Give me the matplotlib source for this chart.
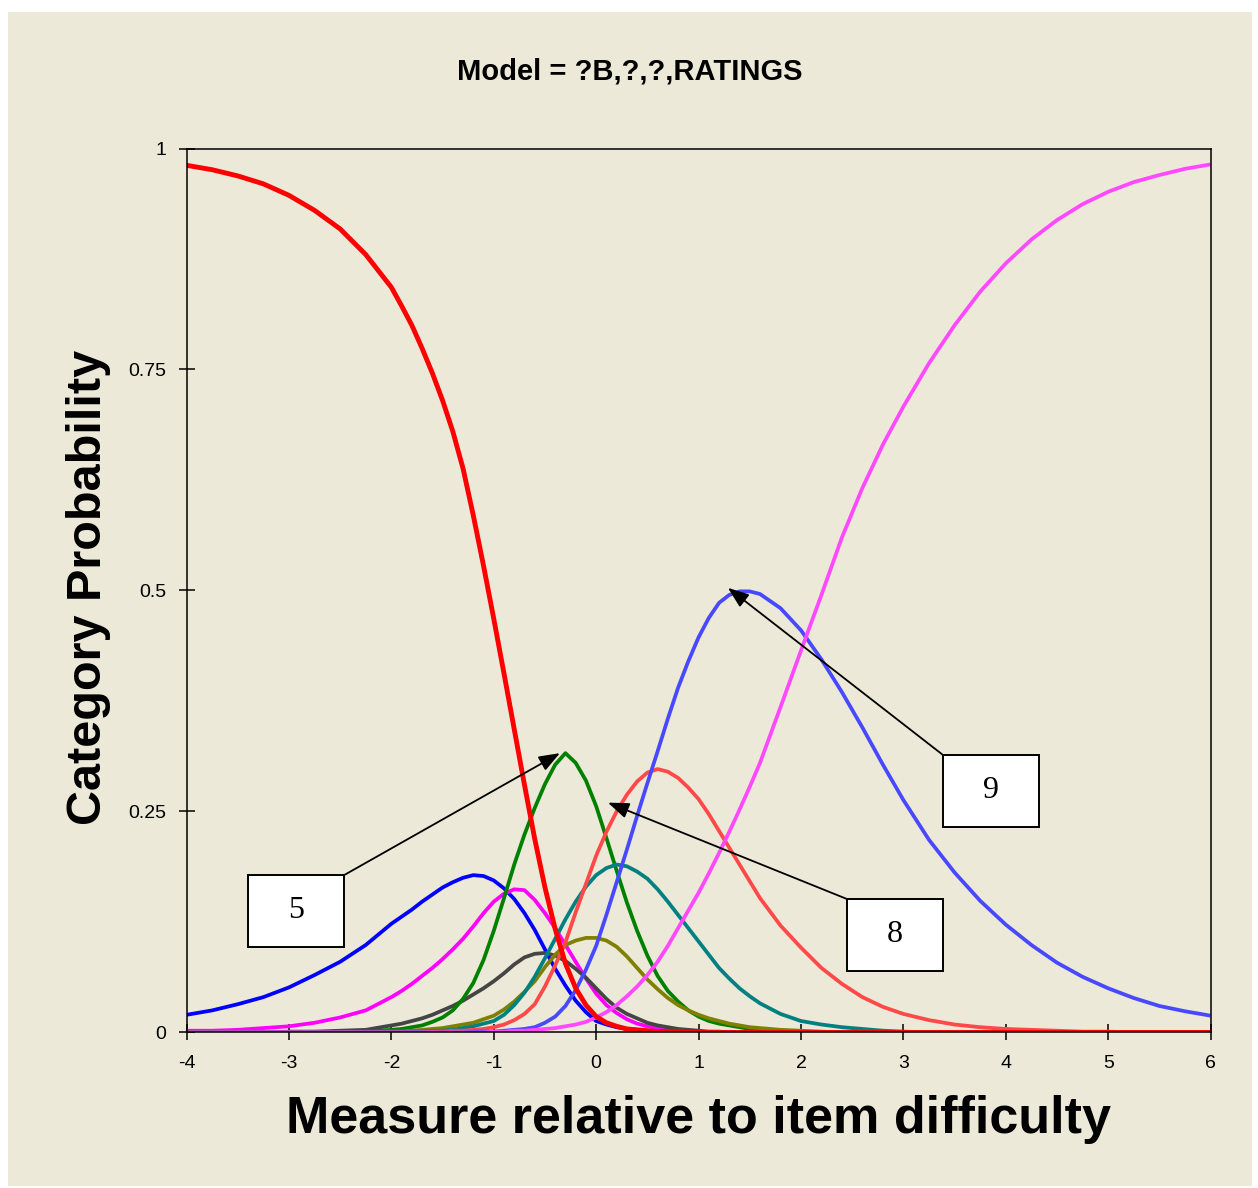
import matplotlib.pyplot as plt
from matplotlib.patches import Rectangle

plt.rcParams['axes.unicode_minus'] = False
plt.rcParams['font.family'] = ['Liberation Sans', 'DejaVu Sans']

BG = '#ECE9D8'

# measure relative to item difficulty (x positions where curves were read)
measure = ([-4.0, -3.75, -3.5, -3.25, -3.0, -2.75, -2.5, -2.25]
           + [-2.0, -1.9, -1.8, -1.7, -1.6, -1.5, -1.4, -1.3, -1.2, -1.1,
              -1.0, -0.9, -0.8, -0.7, -0.6, -0.5, -0.4, -0.3, -0.2, -0.1,
              0.0, 0.1, 0.2, 0.3, 0.4, 0.5, 0.6, 0.7, 0.8, 0.9,
              1.0, 1.1, 1.2, 1.3, 1.4, 1.5, 1.6]
           + [1.8, 2.0, 2.2, 2.4, 2.6, 2.8, 3.0]
           + [3.25, 3.5, 3.75, 4.0, 4.25, 4.5, 4.75, 5.0, 5.25, 5.5, 5.75, 6.0])

Z7 = [0] * 7
Z12 = [0] * 12

# category probabilities, one list per category
prob_1 = ([0.981, 0.976, 0.969, 0.960, 0.947, 0.930, 0.909, 0.880]
          + [0.843, 0.822, 0.800, 0.774, 0.746, 0.715, 0.680, 0.638, 0.585, 0.528,
             0.468, 0.406, 0.343, 0.280, 0.219, 0.164, 0.117, 0.078, 0.050, 0.031,
             0.018, 0.011, 0.007, 0.004, 0.003, 0.002, 0.001, 0.001, 0.001, 0,
             0, 0, 0, 0, 0, 0, 0]
          + Z7 + Z12)
prob_2 = ([0.020, 0.025, 0.032, 0.040, 0.051, 0.065, 0.080, 0.099]
          + [0.123, 0.131, 0.139, 0.148, 0.156, 0.164, 0.170, 0.175, 0.178, 0.177,
             0.172, 0.163, 0.151, 0.135, 0.116, 0.094, 0.072, 0.053, 0.036, 0.023,
             0.013, 0.009, 0.006, 0.004, 0.003, 0.002, 0.001, 0.001, 0, 0,
             0, 0, 0, 0, 0, 0, 0]
          + Z7 + Z12)
prob_3 = ([0.002, 0.002, 0.003, 0.005, 0.007, 0.011, 0.017, 0.025]
          + [0.040, 0.047, 0.055, 0.064, 0.073, 0.083, 0.094, 0.106, 0.120, 0.135,
             0.148, 0.157, 0.162, 0.161, 0.150, 0.135, 0.118, 0.099, 0.080, 0.061,
             0.044, 0.031, 0.022, 0.015, 0.010, 0.007, 0.005, 0.003, 0.002, 0.001,
             0.001, 0, 0, 0, 0, 0, 0]
          + Z7 + Z12)
prob_4 = ([0, 0, 0, 0, 0.001, 0.001, 0.002, 0.003]
          + [0.008, 0.010, 0.013, 0.016, 0.020, 0.025, 0.030, 0.036, 0.043, 0.050,
             0.058, 0.067, 0.077, 0.085, 0.089, 0.090, 0.087, 0.081, 0.072, 0.062,
             0.050, 0.038, 0.028, 0.021, 0.016, 0.011, 0.008, 0.006, 0.004, 0.003,
             0.002, 0.001, 0.001, 0, 0, 0, 0]
          + Z7 + Z12)
prob_5 = ([0, 0, 0, 0, 0, 0, 0.001, 0.001]
          + [0.003, 0.004, 0.006, 0.008, 0.012, 0.017, 0.025, 0.038, 0.056, 0.082,
             0.115, 0.152, 0.190, 0.224, 0.254, 0.281, 0.303, 0.316, 0.305, 0.285,
             0.256, 0.220, 0.183, 0.147, 0.115, 0.087, 0.064, 0.047, 0.035, 0.025,
             0.018, 0.013, 0.010, 0.008, 0.006, 0.004, 0.003]
          + [0.002, 0.001, 0, 0, 0, 0, 0] + Z12)
prob_6 = ([0, 0, 0, 0, 0, 0, 0, 0]
          + [0.001, 0.001, 0.002, 0.003, 0.004, 0.005, 0.007, 0.009, 0.011, 0.015,
             0.019, 0.026, 0.035, 0.046, 0.058, 0.074, 0.088, 0.099, 0.104, 0.107,
             0.107, 0.104, 0.097, 0.086, 0.073, 0.060, 0.049, 0.039, 0.031, 0.025,
             0.020, 0.016, 0.013, 0.010, 0.008, 0.006, 0.005]
          + [0.003, 0.002, 0.001, 0, 0, 0, 0] + Z12)
prob_7 = ([0, 0, 0, 0, 0, 0, 0, 0]
          + [0, 0, 0.001, 0.001, 0.002, 0.002, 0.003, 0.005, 0.007, 0.010,
             0.013, 0.020, 0.031, 0.045, 0.063, 0.084, 0.106, 0.128, 0.148, 0.165,
             0.178, 0.186, 0.190, 0.188, 0.182, 0.174, 0.162, 0.148, 0.133, 0.118,
             0.103, 0.088, 0.073, 0.061, 0.050, 0.041, 0.033]
          + [0.021, 0.013, 0.009, 0.006, 0.004, 0.002, 0.001] + Z12)
prob_8 = ([0, 0, 0, 0, 0, 0, 0, 0]
          + [0, 0, 0, 0, 0.001, 0.001, 0.002, 0.002, 0.003, 0.004,
             0.006, 0.009, 0.014, 0.021, 0.032, 0.052, 0.076, 0.102, 0.136, 0.168,
             0.200, 0.227, 0.250, 0.269, 0.284, 0.294, 0.298, 0.295, 0.288, 0.277,
             0.264, 0.247, 0.228, 0.209, 0.190, 0.171, 0.152]
          + [0.121, 0.096, 0.073, 0.055, 0.040, 0.029, 0.021]
          + [0.014, 0.009, 0.006, 0.004, 0.003, 0.002, 0.001, 0.001, 0, 0, 0, 0])
prob_9 = ([0, 0, 0, 0, 0, 0, 0, 0]
          + [0, 0, 0, 0, 0, 0, 0, 0, 0.001, 0.001,
             0.001, 0.002, 0.003, 0.004, 0.006, 0.011, 0.018, 0.030, 0.048, 0.071,
             0.098, 0.133, 0.170, 0.207, 0.245, 0.282, 0.318, 0.355, 0.390, 0.420,
             0.447, 0.469, 0.486, 0.495, 0.499, 0.499, 0.496]
          + [0.480, 0.455, 0.422, 0.385, 0.345, 0.303, 0.263]
          + [0.218, 0.181, 0.149, 0.122, 0.099, 0.079, 0.063, 0.050, 0.039, 0.030, 0.024, 0.019])
prob_10 = ([0, 0, 0, 0, 0, 0, 0, 0]
           + [0, 0, 0, 0, 0, 0, 0, 0, 0, 0,
              0.001, 0.001, 0.002, 0.002, 0.003, 0.004, 0.005, 0.007, 0.009, 0.012,
              0.017, 0.023, 0.031, 0.041, 0.052, 0.065, 0.080, 0.098, 0.118, 0.138,
              0.158, 0.180, 0.203, 0.227, 0.252, 0.278, 0.305]
           + [0.368, 0.432, 0.495, 0.560, 0.616, 0.665, 0.708]
           + [0.757, 0.800, 0.838, 0.870, 0.897, 0.919, 0.937, 0.951, 0.962, 0.970, 0.977, 0.982])

curves = [prob_1, prob_2, prob_3, prob_4, prob_5, prob_6, prob_7, prob_8, prob_9, prob_10]
colours = ['#FF0000', '#0000FF', '#FF00FF', '#454545', '#008000',
           '#808000', '#008080', '#FF4848', '#4848FF', '#FF48FF']

y_ticks = [0, 0.25, 0.5, 0.75, 1]
y_tick_labels = ['0', '0.25', '0.5', '0.75', '1']
x_ticks = [-4, -3, -2, -1, 0, 1, 2, 3, 4, 5, 6]

# callout boxes: label, box corners (x0, x1, y0, y1), arrow start, arrow tip
callouts = [
    ('5', (-3.40, -2.462, 0.097, 0.178), (-2.462, 0.178), (-0.354, 0.316)),
    ('8', (2.449, 3.386, 0.070, 0.151), (2.449, 0.151), (0.115, 0.260)),
    ('9', (3.386, 4.323, 0.2325, 0.314), (3.386, 0.314), (1.287, 0.503)),
]

fig = plt.figure(figsize=(12.58, 11.88), dpi=100)
fig.patch.set_facecolor('white')
fig.patches.append(Rectangle((8 / 1258, 2 / 1188), 1244 / 1258, 1174 / 1188,
                             transform=fig.transFigure, facecolor=BG,
                             edgecolor='none', zorder=-10))

ax = fig.add_axes([0.1483, 0.1309, 0.8140, 0.7441])
ax.set_facecolor(BG)

for i, (probs, col) in enumerate(zip(curves, colours)):
    lw = 3.5 if i == 0 else 2.7
    z = 3 if i == 0 else 2
    ax.plot(measure, probs, color=col, lw=lw, zorder=z,
            solid_joinstyle='round', solid_capstyle='butt')

ax.set_xlim(-4, 6)
ax.set_ylim(0, 1)
ax.set_xticks(x_ticks)
ax.set_xticklabels([str(t) for t in x_ticks])
ax.set_yticks(y_ticks)
ax.set_yticklabels(y_tick_labels)
ax.tick_params(axis='both', direction='inout', length=11, width=1.1,
               labelsize=14, colors='black')
ax.tick_params(axis='y', pad=9)
ax.tick_params(axis='x', pad=11)
for sp in ax.spines.values():
    sp.set_linewidth(1.1)
    sp.set_color('black')
    sp.set_zorder(4)

for label, (x0, x1, y0, y1), start, tip in callouts:
    ax.annotate('', xy=tip, xytext=start,
                arrowprops=dict(arrowstyle='-|>,head_length=0.8,head_width=0.3',
                                color='black', lw=1.3, shrinkA=0, shrinkB=0,
                                mutation_scale=16),
                zorder=6)
    ax.add_patch(Rectangle((x0, y0), x1 - x0, y1 - y0, facecolor='white',
                           edgecolor='black', lw=1.4, zorder=7))
    ax.text((x0 + x1) / 2, (y0 + y1) / 2, label, ha='center', va='center',
            fontsize=23, family=['Liberation Serif', 'DejaVu Serif'], zorder=8)

fig.text(630 / 1258, 1 - 80 / 1188, 'Model = ?B,?,?,RATINGS', ha='center',
         va='baseline', fontsize=21, fontweight='bold')
fig.text(699 / 1258, 1 - 1133 / 1188, 'Measure relative to item difficulty',
         ha='center', va='baseline', fontsize=37.5, fontweight='bold')
fig.text(101 / 1258, 1 - 587 / 1188, 'Category Probability', rotation=90,
         rotation_mode='anchor', ha='center', va='baseline', fontsize=35,
         fontweight='bold')

fig.savefig('out.png', dpi=100, facecolor=fig.get_facecolor())
